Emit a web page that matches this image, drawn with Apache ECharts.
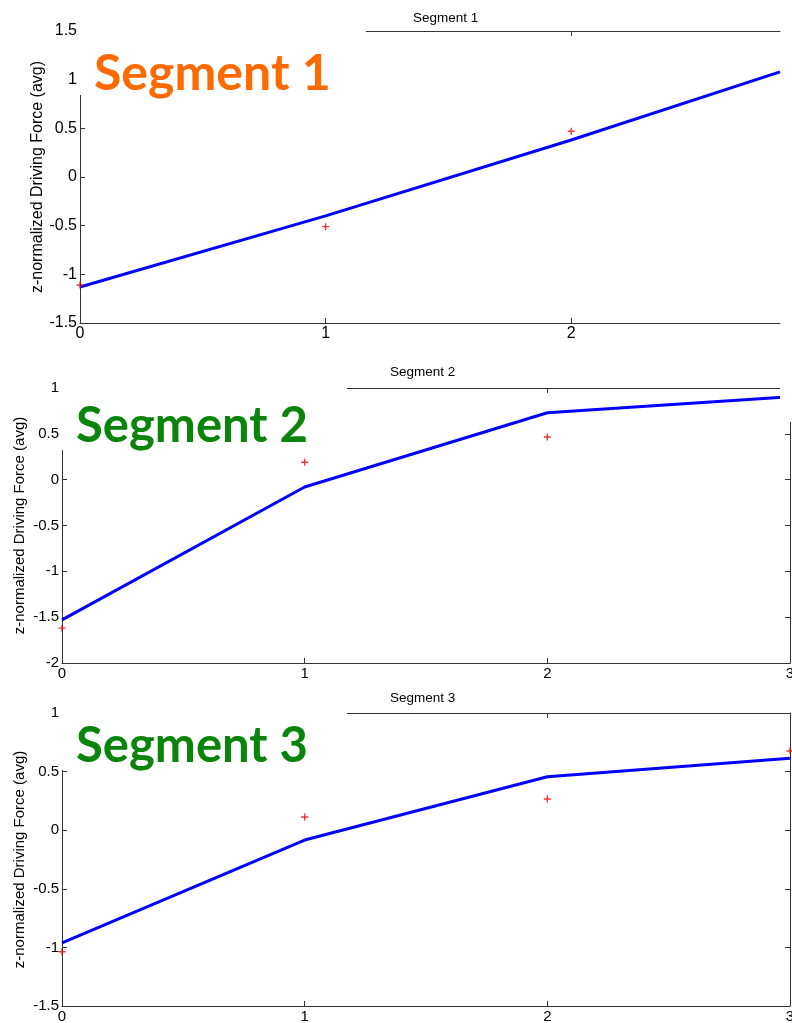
<!DOCTYPE html>
<html>
<head>
<meta charset="utf-8">
<script src="https://cdn.jsdelivr.net/npm/echarts@6/dist/echarts.min.js"></script>
<style>
html,body{margin:0;padding:0;background:#fff;}
#c{width:792px;height:1023px;}
</style>
</head>
<body>
<div id="c"></div>
<script>
// ---- data ----
const panelTitles = ['Segment 1', 'Segment 2', 'Segment 3'];
const overlayTexts = ['Segment 1', 'Segment 2', 'Segment 3'];
const yName = 'z-normalized Driving Force (avg)';

const fitX1 = [0, 1, 2, 2.85];
const fitY1 = [-1.13, -0.40, 0.38, 1.08];
const ptX1 = [0, 1, 2];
const ptY1 = [-1.11, -0.51, 0.47];

const fitX2 = [0, 1, 2, 3];
const fitY2 = [-1.53, -0.08, 0.73, 0.905];
const ptX2 = [0, 1, 2];
const ptY2 = [-1.62, 0.19, 0.465];

const fitX3 = [0, 1, 2, 3];
const fitY3 = [-0.962, -0.084, 0.456, 0.613];
const ptX3 = [0, 1, 2, 3];
const ptY3 = [-1.037, 0.113, 0.266, 0.676];

const xTicks1 = [0, 1, 2];
const xTicks23 = [0, 1, 2, 3];
const yRanges = [[-1.5, 1.5], [-2, 1], [-1.5, 1]];
const xRanges = [[0, 2.85], [0, 3], [0, 3]];

// ---- layout ----
const grids = [
  {left: 80, top: 31, width: 700, height: 292},
  {left: 62, top: 388, width: 728, height: 275},
  {left: 62, top: 713, width: 728, height: 293}
];
const labelSizes = [16, 15, 15];
const nameGaps = [34, 35, 35];

const font = 'Arial, "Liberation Sans", sans-serif';
const axisCol = '#333';
const zip = (a, b) => a.map((v, i) => [v, b[i]]);
const plus = 'path://M-1,-5H1V-1H5V1H1V5H-1V1H-5V-1H-1Z';

const xAxes = [], yAxes = [], series = [];
const fits = [[fitX1, fitY1], [fitX2, fitY2], [fitX3, fitY3]];
const pts = [[ptX1, ptY1], [ptX2, ptY2], [ptX3, ptY3]];

grids.forEach((g, i) => {
  const xt = i === 0 ? xTicks1 : xTicks23;
  const fs = labelSizes[i];
  const base = {
    type: 'value', gridIndex: i, min: xRanges[i][0], max: xRanges[i][1], interval: 1,
    splitLine: {show: false},
    axisLine: {show: true, onZero: false, lineStyle: {color: axisCol, width: 1}},
    axisTick: {show: true, inside: true, length: 5, lineStyle: {color: axisCol}, customValues: xt}
  };
  xAxes.push(Object.assign({}, base, {
    position: 'bottom',
    axisLabel: {show: true, color: '#000', fontSize: fs, fontFamily: font, margin: 3, customValues: xt}
  }));
  xAxes.push(Object.assign({}, base, {
    position: 'top',
    axisLabel: {show: false}
  }));
  const yb = {
    type: 'value', gridIndex: i, min: yRanges[i][0], max: yRanges[i][1], interval: 0.5,
    splitLine: {show: false},
    axisLine: {show: true, onZero: false, lineStyle: {color: axisCol, width: 1}},
    axisTick: {show: true, inside: true, length: 5, lineStyle: {color: axisCol}}
  };
  yAxes.push(Object.assign({}, yb, {
    position: 'left',
    name: yName, nameLocation: 'middle', nameGap: nameGaps[i], nameMoveOverlap: false,
    nameTextStyle: {color: '#000', fontSize: fs, fontFamily: font},
    axisLabel: {show: true, color: '#000', fontSize: fs, fontFamily: font, margin: 3}
  }));
  yAxes.push(Object.assign({}, yb, {
    position: 'right',
    show: i !== 0,
    axisLabel: {show: false}
  }));
  series.push({
    type: 'line', xAxisIndex: i * 2, yAxisIndex: i * 2,
    data: zip(fits[i][0], fits[i][1]), showSymbol: false, symbol: 'none',
    lineStyle: {color: '#0000ff', width: 3}, clip: true, z: 2, silent: true
  });
  series.push({
    type: 'scatter', xAxisIndex: i * 2, yAxisIndex: i * 2,
    data: zip(pts[i][0], pts[i][1]), symbol: plus, symbolSize: 7,
    itemStyle: {color: '#ee0000'}, z: 3, silent: true
  });
});

const titles = [
  {text: panelTitles[0], left: 408, top: 6},
  {text: panelTitles[1], left: 385, top: 360},
  {text: panelTitles[2], left: 385, top: 686}
].map(t => Object.assign(t, {textStyle: {color: '#000', fontSize: 13.5, fontWeight: 'normal', fontFamily: font}}));

const bigFont = 'Lato, "Open Sans", sans-serif';
const graphic = [
  {type: 'rect', shape: {x: 79, y: 24, width: 287, height: 71}, style: {fill: '#fff'}, z: 100},
  {type: 'rect', shape: {x: 61, y: 380, width: 286, height: 70}, style: {fill: '#fff'}, z: 100},
  {type: 'rect', shape: {x: 780, y: 380, width: 12, height: 42}, style: {fill: '#fff'}, z: 100},
  {type: 'rect', shape: {x: 61, y: 705, width: 286, height: 65}, style: {fill: '#fff'}, z: 100},
  {type: 'text', x: 94, y: 49, style: {text: overlayTexts[0], fill: '#ff6a00', font: 'bold 50px ' + bigFont}, z: 101},
  {type: 'text', x: 76, y: 402, style: {text: overlayTexts[1], fill: '#0a840a', font: 'bold 49px ' + bigFont}, z: 101},
  {type: 'text', x: 76, y: 722, style: {text: overlayTexts[2], fill: '#0a840a', font: 'bold 49px ' + bigFont}, z: 101}
];

const chart = echarts.init(document.getElementById('c'), null, {renderer: 'canvas'});
chart.setOption({
  backgroundColor: '#fff',
  animation: false,
  title: titles,
  grid: grids.map(g => Object.assign({containLabel: false, outerBoundsMode: 'none'}, g)),
  xAxis: xAxes,
  yAxis: yAxes,
  series: series,
  graphic: graphic
});
</script>
</body>
</html>
